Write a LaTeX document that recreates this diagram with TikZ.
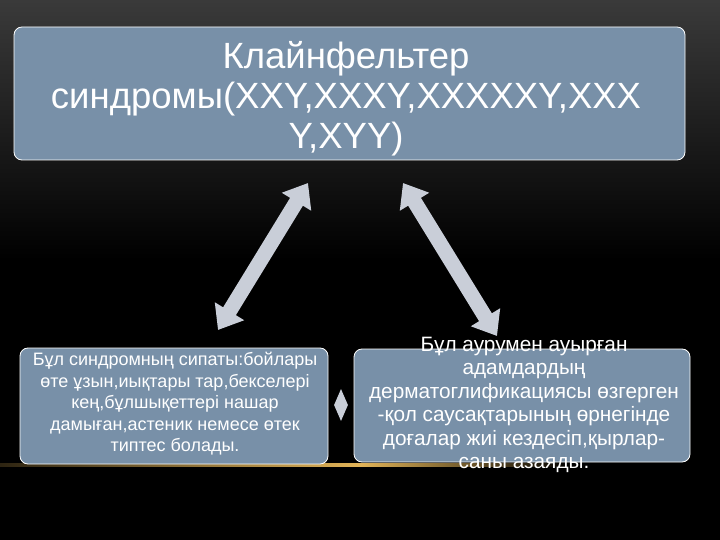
\documentclass[tikz,border=0pt]{standalone}
\usepackage{fontspec}
\setmainfont{Liberation Sans}
\usetikzlibrary{arrows.meta,shapes.geometric}
\definecolor{boxfill}{HTML}{7890A8}
\definecolor{arrowgray}{HTML}{C9CED8}
\definecolor{gold}{HTML}{E2B458}
\definecolor{topgray}{HTML}{3A3A3A}
\tikzset{
  slatebox/.style={draw=white, line width=0.8pt, fill=boxfill, rounded corners=8pt, inner sep=0pt},
  boxtext/.style={text=white, align=center, inner sep=0pt},
  bigarrow/.style={draw=arrowgray, line width=15pt,
    {Triangle[width=33pt,length=22pt]}-{Triangle[width=33pt,length=22pt]}},
}
\begin{document}
\begin{tikzpicture}[x=1pt,y=-1pt]
\useasboundingbox (0,0) rectangle (720,540);
% background
\fill[black] (0,0) rectangle (720,540);
\shade[top color=topgray, bottom color=black] (0,0) rectangle (720,260);
% gold line
\shade[left color=gold!20!black, right color=gold] (0,463.5) rectangle (360,466.5);
\shade[left color=gold, right color=black] (360,463.5) rectangle (570,466.5);
% boxes
\node[slatebox, minimum width=671pt, minimum height=133pt] (top) at (349.5,93.5) {};
\node[boxtext, font=\fontsize{36.5}{40}\selectfont] (toptext) at (346,99)
  {Клайнфельтер\\синдромы(XXY,XXXY,XXXXXY,XXX\\Y,XYY)};
\node[slatebox, minimum width=308pt, minimum height=116pt] (left) at (174,406) {};
\node[boxtext, font=\fontsize{18}{21.5}\selectfont] (lefttext) at (175,404)
  {Бұл синдромның сипаты:бойлары\\өте ұзын,иықтары тар,бекселері\\кең,бұлшықеттері нашар\\дамыған,астеник немесе өтек\\типтес болады.};
\node[slatebox, minimum width=336pt, minimum height=113pt] (right) at (522,405.5) {};
\node[boxtext, font=\fontsize{20.8}{23.5}\selectfont] (righttext) at (524,405)
  {Бұл аурумен ауырған\\адамдардың\\дерматоглификациясы өзгерген\\-қол саусақтарының өрнегінде\\доғалар жиі кездесіп,қырлар-\\саны азаяды.};
% diamond
\node[diamond, fill=arrowgray, inner sep=0pt, minimum width=14pt, minimum height=32pt, aspect=0.44] (dia) at (341,405) {};
% arrows
\coordinate (la1) at (218,330);
\coordinate (la2) at (308,183);
\coordinate (ra1) at (403,183);
\coordinate (ra2) at (497,336);
\draw[bigarrow] (la1) -- (la2);
\draw[bigarrow] (ra1) -- (ra2);
\end{tikzpicture}
\end{document}
